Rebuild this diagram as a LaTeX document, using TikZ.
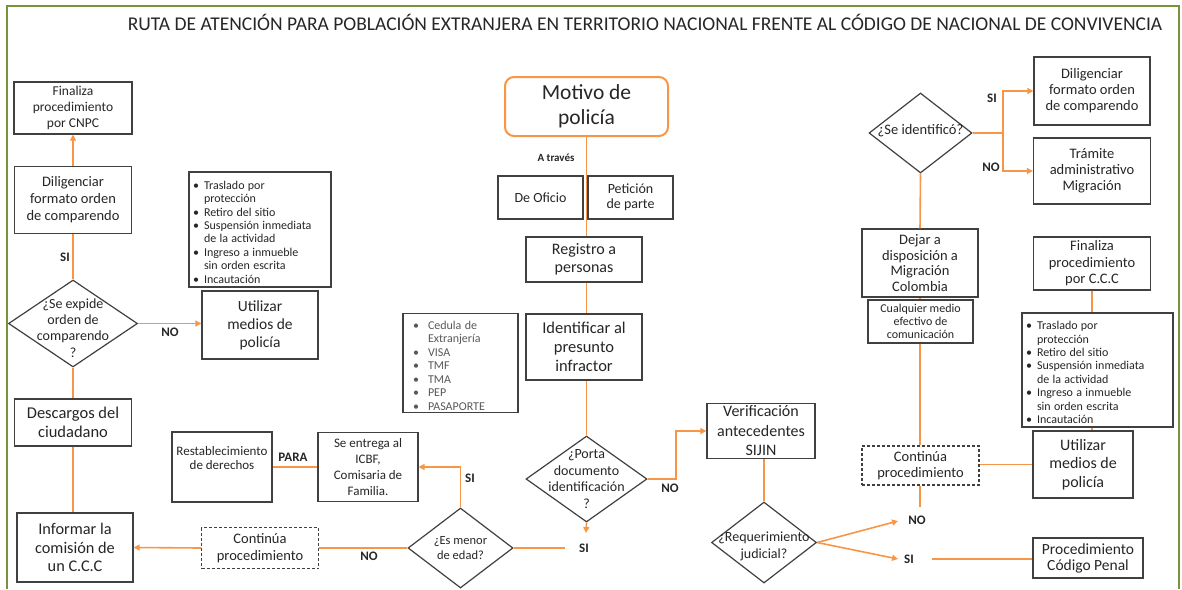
\documentclass[tikz,border=0pt]{standalone}
\usepackage{fontspec}
\setmainfont{Carlito}
\usepackage{enumitem}
\usetikzlibrary{shapes.geometric,arrows.meta}
\definecolor{flowor}{RGB}{247,150,70}
\definecolor{boxgray}{RGB}{64,64,64}
\definecolor{txt}{RGB}{38,38,38}
\definecolor{softtxt}{RGB}{89,89,89}
\definecolor{marco}{RGB}{119,147,60}
\newcommand{\fs}[2]{\fontsize{#1}{#2}\selectfont}
\newenvironment{vinetas}{\begin{itemize}[nosep,leftmargin=11pt,labelsep=5pt,label=\textbullet]}{\end{itemize}}

\begin{document}
\begin{tikzpicture}[x=1pt, y=-1pt, >={Triangle[length=6pt,width=6pt]},
  box/.style={draw=boxgray, line width=1.2pt, fill=white, text=txt, align=center, inner sep=0pt},
  dbox/.style={box, dash pattern=on 3pt off 2pt},
  dia/.style={diamond, draw=boxgray, line width=1.2pt, fill=white, inner sep=0pt},
  dtext/.style={text=txt, align=center, inner sep=0pt},
  listbox/.style={draw=boxgray, line width=1.2pt, fill=white, text=txt, inner xsep=4pt, inner ysep=2pt},
  lbl/.style={font=\bfseries\fs{13}{15}, text=txt, inner sep=1pt},
  flow/.style={draw=flowor, line width=1.6pt}]
  \useasboundingbox (0,0) rectangle (1182,589);
  % marco y titulo
  \draw[marco, line width=2pt] (7,589) |- (1179,6) -- (1179,589);
  \node[text=txt, font=\fs{19.5}{22}] (titulo) at (645,22) {RUTA DE ATENCIÓN PARA POBLACIÓN EXTRANJERA EN TERRITORIO NACIONAL FRENTE AL CÓDIGO DE NACIONAL DE CONVIVENCIA};

  % columna izquierda
  \node[box, font=\fs{13.5}{16}, minimum width=118pt, minimum height=52pt] (fin1) at (73,108) {Finaliza\\procedimiento\\por CNPC};
  \node[box, font=\fs{14.5}{17}, minimum width=117pt, minimum height=67pt] (dil1) at (73,200) {Diligenciar\\formato orden\\de comparendo};
  \node[dia, minimum width=129pt, minimum height=87pt] (d1) at (73,323.5) {};
  \node[dtext, font=\fs{14}{16.3}] (d1t) at (73,328) {¿Se expide\\orden de\\comparendo\\?};
  \node[listbox, text width=134pt, minimum height=115pt] (med1) at (260,229.5) {\fs{12}{13.4}\begin{vinetas}
    \item Traslado por\\protección
    \item Retiro del sitio
    \item Suspensión inmediata\\de la actividad
    \item Ingreso a inmueble\\sin orden escrita
    \item Incautación
  \end{vinetas}};
  \node[box, font=\fs{15.5}{18}, minimum width=116pt, minimum height=68pt] (ut1) at (260,325) {Utilizar\\medios de\\policía};
  \node[box, font=\fs{16.5}{19.5}, minimum width=117pt, minimum height=47pt] (desc) at (73,422.5) {Descargos del\\ciudadano};
  \node[box, font=\fs{16.3}{18.5}, minimum width=116pt, minimum height=69pt] (inf) at (75,547.5) {Informar la\\comisión de\\un C.C.C};
  \node[dbox, font=\fs{14.5}{17}, minimum width=117pt, minimum height=41pt] (cont1) at (260,548) {Continúa\\procedimiento};
  \node[box, minimum width=100pt, minimum height=70pt] (rest) at (222,467) {};
  \node[dtext, font=\fs{13}{14}] (restt) at (222,458) {Restablecimiento\\de derechos};
  \node[box, font=\fs{13}{15.7}, minimum width=100pt, minimum height=69pt] (icbf) at (368,467) {Se entrega al\\ICBF,\\Comisaria de\\Familia.};
  \node[dia, minimum width=105pt, minimum height=80pt] (d2) at (460.5,548) {};
  \node[dtext, font=\fs{12.5}{15}] (d2t) at (460.5,548) {¿Es menor\\de edad?};

  % columna central
  \node[box, draw=flowor, line width=2pt, rounded corners=9pt, font=\fs{21.5}{25}, minimum width=163pt, minimum height=59pt] (mot) at (586.5,106.5) {Motivo de\\policía};
  \node[text=txt, inner sep=1pt, font=\bfseries\fs{11}{13}] (atr) at (556,158) {A través};
  \node[box, font=\fs{14}{16}, minimum width=85pt, minimum height=43pt] (ofi) at (540.5,197.5) {De Oficio};
  \node[box, font=\fs{14}{15.5}, minimum width=85pt, minimum height=43pt] (pet) at (630.5,197.5) {Petición\\de parte};
  \node[box, font=\fs{16}{18}, minimum width=116pt, minimum height=45pt] (reg) at (584,259.5) {Registro a\\personas};
  \node[box, font=\fs{16.5}{19}, minimum width=116pt, minimum height=66pt] (ident) at (584,347) {Identificar al\\presunto\\infractor};
  \node[listbox, text=softtxt, text width=107pt, minimum height=98pt] (docs) at (460.5,363) {\fs{12}{13.5}\begin{itemize}[nosep,leftmargin=21pt,labelsep=9pt,label=\textbullet]
    \item Cedula de\\Extranjería
    \item VISA
    \item TMF
    \item TMA
    \item PEP
    \item PASAPORTE
  \end{itemize}};
  \node[dia, minimum width=121pt, minimum height=86pt] (porta) at (586.5,479) {};
  \node[dtext, font=\fs{14}{16.5}] (portat) at (586.5,479) {¿Porta\\documento\\identificación\\?};
  \node[box, font=\fs{16}{19.5}, minimum width=108pt, minimum height=55pt] (verif) at (761,431) {Verificación\\antecedentes\\SIJIN};
  \node[dia, minimum width=105pt, minimum height=81pt] (req) at (764,542.5) {};
  \node[dtext, font=\fs{14}{17}] (reqt) at (764,546) {¿Requerimiento\\judicial?};

  % columna derecha
  \node[dia, minimum width=103pt, minimum height=80pt] (sid) at (920.5,133) {};
  \node[dtext, font=\fs{14.5}{16}] (sidt) at (920.5,131) {¿Se identificó?};
  \node[box, font=\fs{14.5}{16}, minimum width=116pt, minimum height=68pt] (dil2) at (1092,91) {Diligenciar\\formato orden\\de comparendo};
  \node[box, font=\fs{14.5}{16}, minimum width=117pt, minimum height=66pt] (tram) at (1092,171) {Trámite\\administrativo\\Migración};
  \node[box, font=\fs{14.5}{15.7}, minimum width=116pt, minimum height=68pt] (dejar) at (920,263) {Dejar a\\disposición a\\Migración\\Colombia};
  \node[box, font=\fs{12}{13}, minimum width=105pt, minimum height=43pt] (cual) at (920.5,321.5) {Cualquier medio\\efectivo de\\comunicación};
  \node[dbox, font=\fs{14.5}{16.5}, minimum width=117pt, minimum height=39pt] (cont2) at (920.5,465.5) {Continúa\\procedimiento};
  \node[box, font=\fs{14.5}{16.5}, minimum width=117pt, minimum height=53pt] (fin2) at (1092,263.5) {Finaliza\\procedimiento\\por C.C.C};
  \node[listbox, text width=143pt, minimum height=114pt] (med2) at (1097.5,370) {\fs{12}{13.4}\begin{vinetas}
    \item Traslado por\\protección
    \item Retiro del sitio
    \item Suspensión inmediata\\de la actividad
    \item Ingreso a inmueble\\sin orden escrita
    \item Incautación
  \end{vinetas}};
  \node[box, font=\fs{16}{18.5}, minimum width=100pt, minimum height=67pt] (ut2) at (1083,464.5) {Utilizar\\medios de\\policía};
  \node[box, font=\fs{15.5}{16}, minimum width=110pt, minimum height=40pt] (cpen) at (1088,558) {Procedimiento\\Código Penal};

  % etiquetas
  \node[lbl] (si1) at (65,257) {SI};
  \node[lbl] (no1) at (170,332) {NO};
  \node[lbl] (no2) at (369,556) {NO};
  \node[lbl] (si2) at (470,478) {SI};
  \node[lbl] (para) at (293,457) {PARA};
  \node[lbl] (si3) at (584,548) {SI};
  \node[lbl] (no3) at (670,488) {NO};
  \node[lbl] (no4) at (917,520) {NO};
  \node[lbl] (si4) at (909,559) {SI};
  \node[lbl] (si5) at (992,98) {SI};
  \node[lbl] (no5) at (991,167) {NO};

  \coordinate (si3top) at (586,533);
  \coordinate (si3left) at (565,548);
  \coordinate (nob) at (676,479);
  \coordinate (notip) at (898,521);
  \coordinate (sitip) at (898,559);
  \coordinate (si4r) at (932,559);
  \coordinate (no4top) at (920,507);
  \coordinate (split) at (1003,133);

  % conectores
  \draw[flow,->] (dil1.north) -- (fin1.south);
  \draw[flow] (d1.north) -- (dil1.south);
  \draw[flow,->] (d1.east) -- (d1.east -| ut1.west);
  \draw[flow] (d1.south) -- (desc.north);
  \draw[flow] (desc.south) -- (desc.south |- inf.north);
  \draw[flow,->] (cont1.west) -- (inf.east);
  \draw[flow] (d2.west) -- (cont1.east);
  \draw[flow,->] (d2.north) |- (icbf.east);
  \draw[flow] (icbf.west) -- (rest.east);
  \draw[flow] (d2.east) -- (si3left);
  \draw[flow,->] (porta.south) -- (si3top);

  \draw[flow] (mot.south) -- (mot.south |- reg.north);
  \draw[flow] (reg.south -| mot.south) -- (ident.north -| mot.south);
  \draw[flow] (ident.south -| mot.south) -- (porta.north);
  \draw[flow,->] (porta.east) -- (nob) |- (verif.west);
  \draw[flow] (verif.south -| req.north) -- (req.north);
  \draw[flow,->] (req.east) -- (notip);
  \draw[flow,->] (req.east) -- (sitip);
  \draw[flow] (si4r) -- (cpen.west |- si4r);

  \draw[flow] (sid.south) -- (dejar.north);
  \draw[flow] (dejar.south) -- (cual.north -| dejar.south);
  \draw[flow] (cual.south -| dejar.south) -- (cont2.north -| dejar.south);
  \draw[flow] (cont2.south -| dejar.south) -- (no4top);
  \draw[flow] (ut2.west) -- (ut2.west -| cont2.east);
  \draw[flow] (sid.east) -- (split);
  \draw[flow,->] (split) |- (dil2.west);
  \draw[flow,->] (split) |- (tram.west);
  \draw[flow] (fin2.south) -- (med2.north -| fin2.south);
  \draw[flow] (med2.south -| fin2.south) -- (ut2.north -| fin2.south);
\end{tikzpicture}
\end{document}
